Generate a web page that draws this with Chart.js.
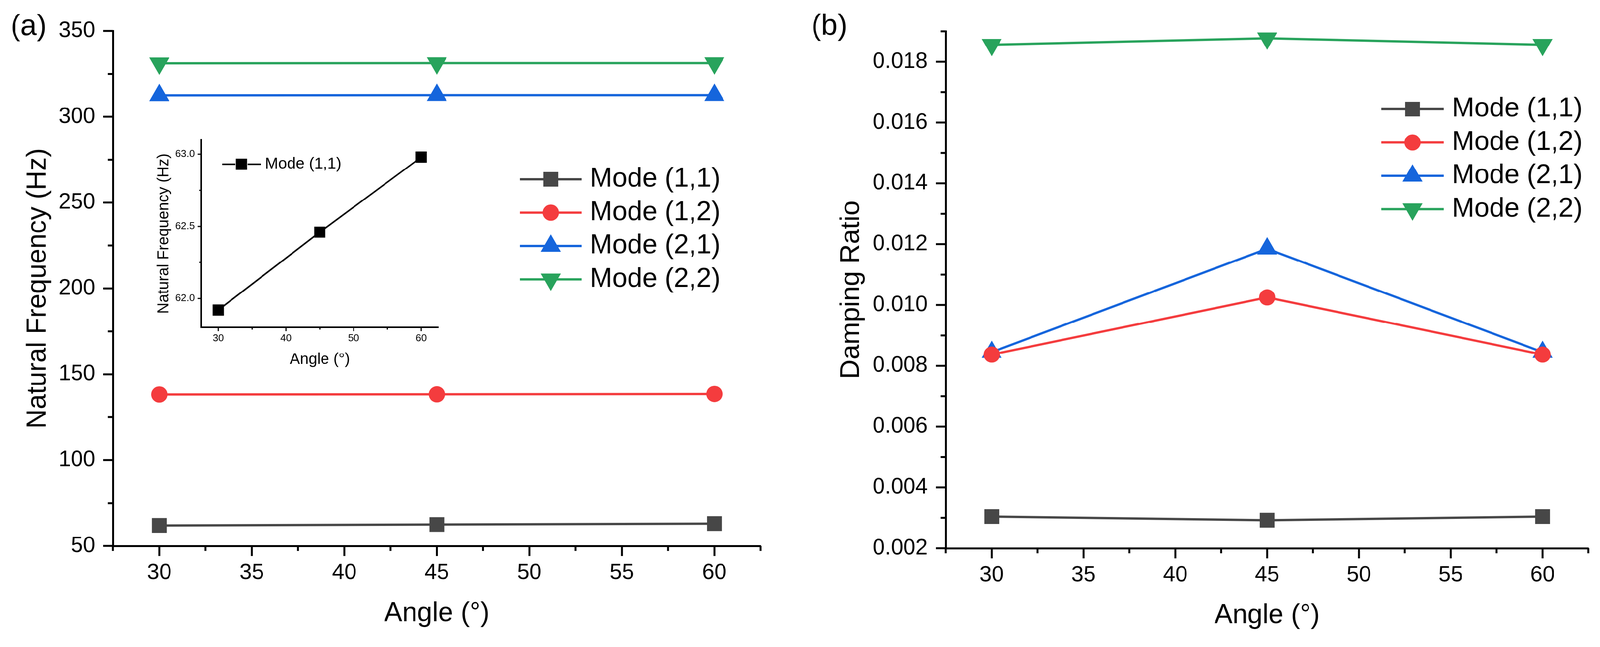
<!DOCTYPE html>
<html>
<head>
<meta charset="utf-8">
<script src="https://cdn.jsdelivr.net/npm/chart.js@4.4.1/dist/chart.umd.min.js"></script>
<style>
html, body { margin: 0; padding: 0; background: #fff; overflow: hidden; }
#wrap { position: relative; width: 4148px; height: 1657px; background: #fff; transform-origin: 0 0; }
canvas { position: absolute; }
</style>
</head>
<body>
<div id="wrap">
  <canvas id="freqChart" width="2070" height="1657" style="left:0px;top:0px"></canvas>
  <canvas id="insetChart" width="800" height="650" style="left:380px;top:330px"></canvas>
  <canvas id="dampChart" width="2068" height="1657" style="left:2080px;top:0px"></canvas>
</div>
<script>
// data
const angles = [30, 45, 60];
const modeNames = ['Mode (1,1)', 'Mode (1,2)', 'Mode (2,1)', 'Mode (2,2)'];

const freq11 = [61.92, 62.46, 62.98];
const freq12 = [138.2, 138.3, 138.5];
const freq21 = [312.5, 312.6, 312.6];
const freq22 = [331.2, 331.3, 331.3];

const damp11 = [0.00304, 0.00292, 0.00304];
const damp12 = [0.00837, 0.01025, 0.00837];
const damp21 = [0.00845, 0.01185, 0.00845];
const damp22 = [0.01856, 0.01877, 0.01856];

// tick labels / tick marks
const angleMajor = [30, 35, 40, 45, 50, 55, 60];
const angleMinor = [27.5, 32.5, 37.5, 42.5, 47.5, 52.5, 57.5, 62.5];
const freqMajor = [50, 100, 150, 200, 250, 300, 350];
const freqMinor = [75, 125, 175, 225, 275, 325];
const dampMajor = [0.002, 0.004, 0.006, 0.008, 0.010, 0.012, 0.014, 0.016, 0.018];
const dampMinor = [0.003, 0.005, 0.007, 0.009, 0.011, 0.013, 0.015, 0.017, 0.019];
const insetAngleMajor = [30, 40, 50, 60];
const insetAngleMinor = [35, 45, 55];
const insetFreqMajor = [62.0, 62.5, 63.0];
const insetFreqMinor = [62.25, 62.75];

const colors = ['#474747', '#f43c3e', '#1565dc', '#28a35c'];
const FONT = 'Arial, "Liberation Sans", sans-serif';

// keep the 4148x1657 layout inside whatever viewport we get
const fit = Math.min(window.innerWidth / 4148, window.innerHeight / 1657);
document.getElementById('wrap').style.transform = 'scale(' + fit + ')';

Chart.defaults.font.family = FONT;
Chart.defaults.color = '#000';

function pts(vals) {
    return angles.map((a, i) => ({ x: a, y: vals[i] }));
}

function series(label, vals, color, style, radius, rot, width) {
    return {
        label: label,
        data: pts(vals),
        borderColor: color,
        backgroundColor: color,
        borderWidth: width,
        pointStyle: style,
        pointRadius: radius,
        pointRotation: rot || 0,
        pointBackgroundColor: color,
        pointBorderWidth: 0,
        tension: 0,
        clip: false
    };
}

// outward major/minor tick marks, placed through the chart's scales
const axisTicks = {
    id: 'axisTicks',
    afterDraw(chart, args, o) {
        const ctx = chart.ctx, area = chart.chartArea;
        const xs = chart.scales.x, ys = chart.scales.y;
        ctx.save();
        ctx.strokeStyle = '#000';
        ctx.lineWidth = o.width;
        ctx.beginPath();
        o.xMajor.forEach(v => { const p = xs.getPixelForValue(v); ctx.moveTo(p, area.bottom); ctx.lineTo(p, area.bottom + o.major); });
        o.xMinor.forEach(v => { const p = xs.getPixelForValue(v); ctx.moveTo(p, area.bottom); ctx.lineTo(p, area.bottom + o.minor); });
        o.yMajor.forEach(v => { const p = ys.getPixelForValue(v); ctx.moveTo(area.left, p); ctx.lineTo(area.left - o.major, p); });
        o.yMinor.forEach(v => { const p = ys.getPixelForValue(v); ctx.moveTo(area.left, p); ctx.lineTo(area.left - o.minor, p); });
        ctx.stroke();
        ctx.restore();
    }
};

// legend drawn as line - marker - line, like the original
const lineLegend = {
    id: 'lineLegend',
    afterDraw(chart, args, o) {
        const ctx = chart.ctx;
        chart.data.datasets.forEach((ds, i) => {
            const y = o.top + i * o.gap;
            const xm = (o.x0 + o.x1) / 2;
            ctx.save();
            ctx.strokeStyle = ds.borderColor;
            ctx.fillStyle = ds.pointBackgroundColor;
            ctx.lineWidth = o.lineWidth;
            ctx.beginPath();
            if (o.split) {
                ctx.moveTo(o.x0, y); ctx.lineTo(xm - o.split, y);
                ctx.moveTo(xm + o.split, y); ctx.lineTo(o.x1, y);
            } else {
                ctx.moveTo(o.x0, y); ctx.lineTo(o.x1, y);
            }
            ctx.stroke();
            Chart.helpers.drawPoint(ctx, {
                pointStyle: ds.pointStyle,
                radius: ds.pointRadius,
                rotation: ds.pointRotation,
                borderWidth: 0
            }, xm, y);
            ctx.fillStyle = '#000';
            ctx.font = o.fontSize + 'px ' + FONT;
            ctx.textBaseline = 'middle';
            ctx.textAlign = 'left';
            ctx.fillText(ds.label, o.textX, y);
            ctx.restore();
        });
    }
};

const panelLabel = {
    id: 'panelLabel',
    afterDraw(chart, args, o) {
        const ctx = chart.ctx;
        ctx.save();
        ctx.fillStyle = '#000';
        ctx.font = o.size + 'px ' + FONT;
        ctx.textAlign = 'center';
        ctx.textBaseline = 'middle';
        ctx.fillText(o.text, o.x, o.y);
        ctx.restore();
    }
};

function xScale(min, max, major, h, tickSize, tickPad, titleSize, titlePad, border) {
    return {
        type: 'linear', min: min, max: max,
        afterBuildTicks: s => { s.ticks = major.map(v => ({ value: v })); },
        afterFit: s => { s.height = h; },
        grid: { display: false, drawTicks: false },
        border: { display: true, color: '#000', width: border },
        ticks: { font: { size: tickSize }, color: '#000', padding: tickPad, maxRotation: 0, autoSkip: false },
        title: { display: true, text: 'Angle (°)', font: { size: titleSize }, color: '#000', padding: { top: 0, bottom: titlePad } }
    };
}

function yScale(min, max, major, w, fmt, tickSize, tickPad, title, titleSize, titlePad, border) {
    return {
        type: 'linear', min: min, max: max,
        afterBuildTicks: s => { s.ticks = major.map(v => ({ value: v })); },
        afterFit: s => { s.width = w; },
        grid: { display: false, drawTicks: false },
        border: { display: true, color: '#000', width: border },
        ticks: { font: { size: tickSize }, color: '#000', padding: tickPad, autoSkip: false, callback: fmt },
        title: { display: true, text: title, font: { size: titleSize }, color: '#000', padding: { top: titlePad, bottom: 0 } }
    };
}

const common = {
    responsive: false,
    animation: false,
    events: []
};

// (a) natural frequency
new Chart(document.getElementById('freqChart'), {
    type: 'line',
    data: {
        datasets: [
            series(modeNames[0], freq11, colors[0], 'rect', 27, 0, 6),
            series(modeNames[1], freq12, colors[1], 'circle', 21, 0, 6),
            series(modeNames[2], freq21, colors[2], 'triangle', 30, 0, 6),
            series(modeNames[3], freq22, colors[3], 'triangle', 30, 180, 6)
        ]
    },
    options: Object.assign({}, common, {
        layout: { padding: { top: 64, right: 98, bottom: 0, left: 0 } },
        scales: {
            x: xScale(27.5, 62.5, angleMajor, 241, 57, 36, 70, 23, 5),
            y: yScale(50, 350, freqMajor, 293, v => String(v), 57, 46, 'Natural Frequency (Hz)', 70, 57, 5)
        },
        plugins: {
            legend: { display: false },
            tooltip: { enabled: false },
            axisTicks: { width: 5, major: 26, minor: 13, xMajor: angleMajor, xMinor: angleMinor, yMajor: freqMajor, yMinor: freqMinor },
            lineLegend: { x0: 1348, x1: 1508, textX: 1529, top: 465, gap: 86.5, lineWidth: 6, fontSize: 70 },
            panelLabel: { text: '(a)', x: 74, y: 70, size: 76 }
        }
    }),
    plugins: [axisTicks, lineLegend, panelLabel]
});

// inset: Mode (1,1) zoomed
new Chart(document.getElementById('insetChart'), {
    type: 'line',
    data: {
        datasets: [
            series(modeNames[0], freq11, '#000', 'rect', 20.5, 0, 4)
        ]
    },
    options: Object.assign({}, common, {
        layout: { padding: { top: 23, right: 44, bottom: 0, left: 0 } },
        scales: {
            x: xScale(27.5, 62.5, insetAngleMajor, 131, 26, 13, 40, 23, 4),
            y: yScale(61.8, 63.1, insetFreqMajor, 142, v => v.toFixed(1), 26, 17, 'Natural Frequency (Hz)', 40, 21, 4)
        },
        plugins: {
            legend: { display: false },
            tooltip: { enabled: false },
            axisTicks: { width: 3, major: 10, minor: 6, xMajor: insetAngleMajor, xMinor: insetAngleMinor, yMajor: insetFreqMajor, yMinor: insetFreqMinor },
            lineLegend: { x0: 196, x1: 296, split: 16, textX: 307, top: 96, gap: 0, lineWidth: 4, fontSize: 41 }
        }
    }),
    plugins: [axisTicks, lineLegend]
});

// (b) damping ratio
new Chart(document.getElementById('dampChart'), {
    type: 'line',
    data: {
        datasets: [
            series(modeNames[0], damp11, colors[0], 'rect', 27, 0, 6),
            series(modeNames[1], damp12, colors[1], 'circle', 21, 0, 6),
            series(modeNames[2], damp21, colors[2], 'triangle', 30, 0, 6),
            series(modeNames[3], damp22, colors[3], 'triangle', 30, 180, 6)
        ]
    },
    options: Object.assign({}, common, {
        layout: { padding: { top: 68, right: 19, bottom: 0, left: 0 } },
        scales: {
            x: xScale(27.5, 62.5, angleMajor, 235, 57, 36, 70, 18, 5),
            y: yScale(0.002, 0.019, dampMajor, 372, v => v.toFixed(3), 57, 47, 'Damping Ratio', 70, 86, 5)
        },
        plugins: {
            legend: { display: false },
            tooltip: { enabled: false },
            axisTicks: { width: 5, major: 26, minor: 13, xMajor: angleMajor, xMinor: angleMinor, yMajor: dampMajor, yMinor: dampMinor },
            lineLegend: { x0: 1501, x1: 1663, textX: 1684, top: 283, gap: 86.5, lineWidth: 6, fontSize: 70 },
            panelLabel: { text: '(b)', x: 70, y: 69, size: 76 }
        }
    }),
    plugins: [axisTicks, lineLegend, panelLabel]
});
</script>
</body>
</html>
